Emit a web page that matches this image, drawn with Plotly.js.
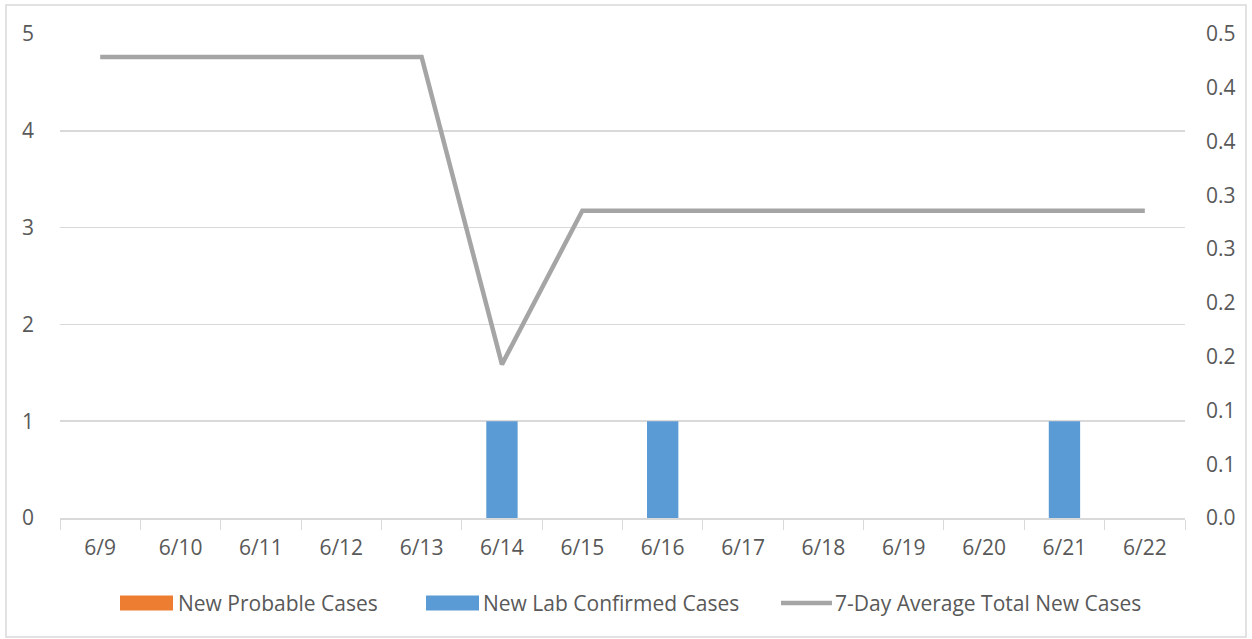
<!DOCTYPE html>
<html>
<head>
<meta charset="utf-8">
<script src="https://cdn.plot.ly/plotly-3.0.1.min.js"></script>
<style>html,body{margin:0;padding:0;background:#fff;}#chart{width:1252px;height:639px;}</style>
</head>
<body>
<div id="chart"></div>
<script>
const dates = ["6/9","6/10","6/11","6/12","6/13","6/14","6/15","6/16","6/17","6/18","6/19","6/20","6/21","6/22"];
const probable = [0,0,0,0,0,0,0,0,0,0,0,0,0,0];
const labConfirmed = [0,0,0,0,0,1,0,1,0,0,0,0,1,0];
const avg7 = [3/7,3/7,3/7,3/7,3/7,1/7,2/7,2/7,2/7,2/7,2/7,2/7,2/7,2/7];
const leftTicks = [0,1,2,3,4,5];
const rightTickVals = [0,0.05,0.1,0.15,0.2,0.25,0.3,0.35,0.4,0.45];
const rightTickText = ["0.0","0.1","0.1","0.2","0.2","0.3","0.3","0.4","0.4","0.5"];
const seriesNames = ["New Probable Cases","New Lab Confirmed Cases","7-Day Average Total New Cases"];
const seriesColors = ["#ED7D31","#5B9BD5","#A5A5A5"];

const font = {family: "Open Sans, Lato, sans-serif", size: 21, color: "#595959"};

const traces = [
  {type: "bar", name: seriesNames[0], x: dates, y: probable, marker: {color: seriesColors[0]}, width: 0.39},
  {type: "bar", name: seriesNames[1], x: dates, y: labConfirmed, marker: {color: seriesColors[1]}, width: 0.39},
  {type: "scatter", mode: "lines", name: seriesNames[2], x: dates, y: avg7, yaxis: "y2",
   line: {color: seriesColors[2], width: 4.5}}
];

// plot area: x 60..1185 px, y 34..518 px
const px = v => (v - 60) / 1125;
const py = v => (518 - v) / 484;

const legendItems = [
  {x0: 120, x1: 173, text: 178, kind: "rect"},
  {x0: 426, x1: 479, text: 483, kind: "rect"},
  {x0: 781, x1: 832, text: 835, kind: "line"}
];
const shapes = [
  {type: "rect", xref: "paper", yref: "paper", x0: px(6), x1: px(1246), y0: py(637), y1: py(5),
   line: {color: "#D9D9D9", width: 1.5}, fillcolor: "rgba(0,0,0,0)", layer: "below"}
];
const annotations = [];
legendItems.forEach((it, i) => {
  if (it.kind === "rect") {
    shapes.push({type: "rect", xref: "paper", yref: "paper", x0: px(it.x0), x1: px(it.x1), y0: py(610.5), y1: py(595.5),
      line: {width: 0}, fillcolor: seriesColors[i]});
  } else {
    shapes.push({type: "line", xref: "paper", yref: "paper", x0: px(it.x0), x1: px(it.x1), y0: py(603), y1: py(603),
      line: {color: seriesColors[i], width: 4.5}});
  }
  annotations.push({xref: "paper", yref: "paper", x: px(it.text), y: py(603), xanchor: "left", yanchor: "middle",
    text: seriesNames[i], showarrow: false, font: font, xshift: -2});
});

const layout = {
  width: 1252, height: 639,
  margin: {l: 60, r: 67, t: 34, b: 121},
  paper_bgcolor: "#fff", plot_bgcolor: "#fff",
  font: font,
  barmode: "overlay",
  showlegend: false,
  xaxis: {type: "category", tickson: "boundaries", ticks: "outside", ticklen: 10, tickcolor: "#D9D9D9",
          showline: true, linecolor: "#D9D9D9", linewidth: 1.5, showgrid: false, ticklabelstandoff: 10, tickfont: font,
          range: [-0.5, 13.5]},
  yaxis: {range: [0, 5], tickvals: leftTicks, showgrid: true, gridcolor: "#D9D9D9", gridwidth: 1.5, zeroline: false,
          showline: false, ticks: "", ticklabelstandoff: 25, tickfont: font},
  yaxis2: {overlaying: "y", side: "right", range: [0, 0.45], tickvals: rightTickVals, ticktext: rightTickText,
           showgrid: false, zeroline: false, showline: false, ticks: "", ticklabelstandoff: 20, tickfont: font},
  shapes: shapes,
  annotations: annotations
};

Plotly.newPlot("chart", traces, layout, {displayModeBar: false, staticPlot: true});
</script>
</body>
</html>
